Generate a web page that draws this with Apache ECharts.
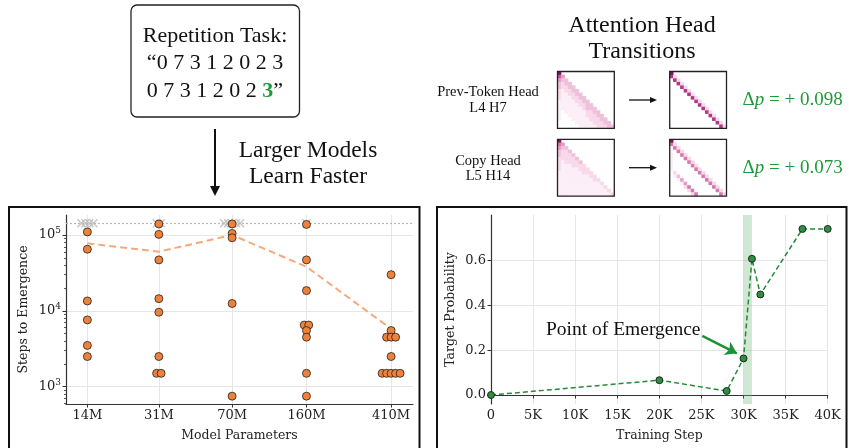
<!DOCTYPE html>
<html><head><meta charset="utf-8">
<script src="https://cdn.jsdelivr.net/npm/echarts@6/dist/echarts.min.js"></script>
<style>html,body{margin:0;padding:0;background:#fff}#c{width:849px;height:448px}</style>
</head><body><div id="c"></div>
<script>
// ---------- Left panel: steps to emergence vs model size ----------
const modelSizes = [14, 31, 70, 160, 410];          // millions of parameters
const modelLabels = ['14M', '31M', '70M', '160M', '410M'];
const emergence14M  = [110000, 65000, 13500, 7600, 3500, 2500];
const emergence31M  = [140000, 102000, 47000, 14500, 9600, 2500, 1500, 1500];
const emergence70M  = [140000, 105000, 92000, 12500, 750];
const emergence160M = [138000, 47000, 18500, 6500, 6500, 5500, 4500, 1500, 750];
const emergence410M = [30000, 5500, 4500, 4500, 4500, 2500, 1500, 1500, 1500, 1500, 1500];
const notEmergedCount = [4, 2, 5, 1, 0];
const maxTrainSteps = 143000;
const trendSteps = [77700, 60300, 100000, 38200, 5800];
const yTickValues = [1000, 10000, 100000];
const yMinorTicks = [600, 700, 800, 900, 2000, 3000, 4000, 5000, 6000, 7000, 8000, 9000,
                     20000, 30000, 40000, 50000, 60000, 70000, 80000, 90000];

// ---------- Right panel: target probability over training ----------
const trainSteps = [0, 20000, 28000, 30000, 31000, 32000, 37000, 40000];
const targetProb = [0.0, 0.066, 0.018, 0.163, 0.607, 0.448, 0.740, 0.740];
const emergenceWindow = [30000, 31000];
const xTicksRight = [0, 5000, 10000, 15000, 20000, 25000, 30000, 35000, 40000];
const yTicksRight = [0, 0.2, 0.4, 0.6];
const arrowFrom = [25100, 0.263];
const arrowTo = [29200, 0.186];

// ---------- Attention maps (intensity 0-9, lower-triangular rows) ----------
const prevTokenBefore = ['9','64','433','3233','32233','212233','2112233','21112233','111112233',
  '1111112233','11111112333','101111112233','1001111122233','10001111122233','000001111122233','0000001111122233'];
const prevTokenAfter = ['9','72','072','0072','00072','000072','0000072','00000072','000000072',
  '0000000072','00000000072','000000000072','0000000000072','00000000000072','000000000000072','0000000000000072'];
const copyHeadBefore = ['9','54','433','3223','32223','222223','2122223','21112222','211111222',
  '1111111222','11111111122','111111111122','1111111111112','11111111111112','111111111111112','1111111111111112'];
const copyHeadAfter = ['9','52','152','1052','10052','100052','1000052','10000052','100000052',
  '0200000052','01300000052','001400000052','0001400000052','00002500000052','000002500000052','0000002500000052'];
const attnMaps = [prevTokenBefore, prevTokenAfter, copyHeadBefore, copyHeadAfter];
const deltaP = ['+ 0.098', '+ 0.073'];

const SERIF = 'DejaVu Serif';
const TEXT = 'Liberation Serif';
const ORANGE = '#ef8238';
const GREEN = '#238b38';
const AX = '#333';

const chart = echarts.init(document.getElementById('c'), null, {renderer: 'canvas'});

// build swarm-jittered scatter data
const groups = [emergence14M, emergence31M, emergence70M, emergence160M, emergence410M];
const scatterData = [];
groups.forEach((arr, gi) => {
  const counts = {};
  arr.forEach(v => { counts[v] = (counts[v] || 0) + 1; });
  const seen = {};
  arr.forEach(v => {
    const n = counts[v];
    const k = seen[v] = (seen[v] === undefined ? 0 : seen[v] + 1);
    scatterData.push({value: [modelSizes[gi], v], symbolOffset: [(k - (n - 1) / 2) * 4.5, 0]});
  });
});
const crossData = [];
notEmergedCount.forEach((n, gi) => {
  for (let k = 0; k < n; k++) crossData.push({value: [modelSizes[gi], maxTrainSteps], symbolOffset: [(k - (n - 1) / 2) * 4, 0]});
});

// heatmap grids
const hmLefts = [557.5, 669.7, 557.5, 669.7];
const hmTops = [71.5, 71.5, 139.3, 139.3];
const hmSize = 56.8;
const N = 16;
const cats = Array.from({length: N}, (_, i) => String(i));

const grids = [
  {left: 66, top: 215, right: 436, bottom: 44},
  {left: 491, top: 215, right: 21.3, bottom: 44}
];
const xAxes = [
  {gridIndex: 0, type: 'log', logBase: 10, min: 11.04, max: 523,
   axisLine: {show: true, lineStyle: {color: AX, width: 1.2}},
   axisTick: {show: true, length: 3.5, customValues: modelSizes, lineStyle: {color: AX}},
   axisLabel: {customValues: modelSizes, formatter: v => modelLabels[modelSizes.indexOf(Math.round(v))],
               fontFamily: SERIF, fontSize: 13, color: '#222', margin: 5},
   splitLine: {show: true, lineStyle: {color: '#e6e6e6'}},
   minorTick: {show: false}, minorSplitLine: {show: false},
   name: 'Model Parameters', nameLocation: 'middle', nameGap: 25,
   nameTextStyle: {fontFamily: SERIF, fontSize: 12.5, color: '#222'}},
  {gridIndex: 1, type: 'value', min: 0, max: 40000,
   axisLine: {show: true, lineStyle: {color: AX, width: 1.2}},
   axisTick: {show: true, length: 3.5, customValues: xTicksRight, lineStyle: {color: AX}},
   axisLabel: {customValues: xTicksRight, formatter: v => v === 0 ? '0' : (v / 1000) + 'K',
               fontFamily: SERIF, fontSize: 13, color: '#222', margin: 5},
   splitLine: {show: true, lineStyle: {color: '#e6e6e6'}},
   name: 'Training Step', nameLocation: 'middle', nameGap: 25,
   nameTextStyle: {fontFamily: SERIF, fontSize: 12.5, color: '#222'}}
];
const yAxes = [
  {gridIndex: 0, type: 'log', logBase: 10, min: 591, max: 183800,
   axisLine: {show: true, lineStyle: {color: AX, width: 1.2}},
   axisTick: {show: true, length: 3.5, customValues: yTickValues, lineStyle: {color: AX}},
   axisLabel: {customValues: yTickValues, margin: 5,
     formatter: v => '{b|10}{s|' + Math.round(Math.log10(v)) + '}',
     rich: {b: {fontFamily: SERIF, fontSize: 13, color: '#222'},
            s: {fontFamily: SERIF, fontSize: 9, color: '#222', padding: [0, 0, 8, 0]}}},
   splitLine: {show: true, lineStyle: {color: '#e6e6e6'}},
   minorTick: {show: false},
   name: 'Steps to Emergence', nameLocation: 'middle', nameGap: 36,
   nameTextStyle: {fontFamily: SERIF, fontSize: 12.5, color: '#222'}},
  {gridIndex: 0, type: 'log', logBase: 10, min: 591, max: 183800, position: 'left',
   axisLine: {show: false}, axisLabel: {show: false}, splitLine: {show: false},
   axisTick: {show: true, length: 2, customValues: yMinorTicks, lineStyle: {color: AX, width: 0.8}}},
  {gridIndex: 1, type: 'value', min: -0.04, max: 0.802,
   axisLine: {show: true, lineStyle: {color: AX, width: 1.2}},
   axisTick: {show: true, length: 3.5, customValues: yTicksRight, lineStyle: {color: AX}},
   axisLabel: {customValues: yTicksRight, formatter: v => v.toFixed(1),
               fontFamily: SERIF, fontSize: 13, color: '#222', margin: 5},
   splitLine: {show: true, lineStyle: {color: '#e6e6e6'}},
   name: 'Target Probability', nameLocation: 'middle', nameGap: 34,
   nameTextStyle: {fontFamily: SERIF, fontSize: 12.5, color: '#222'}}
];

const series = [
  {type: 'scatter', xAxisIndex: 0, yAxisIndex: 0, data: crossData, z: 2,
   symbol: 'path://M0,0L10,10M10,0L0,10', symbolSize: 8,
   itemStyle: {color: 'rgba(0,0,0,0)', borderColor: '#b8b8b8', borderWidth: 1.4},
   markLine: {silent: true, symbol: 'none', label: {show: false}, z: 1,
     lineStyle: {type: [2, 2], color: '#b5b5b5', width: 1.2}, data: [{yAxis: maxTrainSteps}]}},
  {type: 'line', xAxisIndex: 0, yAxisIndex: 0, z: 3,
   data: modelSizes.map((m, i) => [m, trendSteps[i]]), symbol: 'none',
   lineStyle: {color: '#f5a97b', width: 2, type: [7, 4]}},
  {type: 'scatter', xAxisIndex: 0, yAxisIndex: 0, data: scatterData, z: 4,
   symbol: 'circle', symbolSize: 8,
   itemStyle: {color: ORANGE, borderColor: '#222', borderWidth: 0.8, opacity: 1}},
  {type: 'line', xAxisIndex: 1, yAxisIndex: 2, z: 4,
   data: trainSteps.map((s, i) => [s, targetProb[i]]),
   symbol: 'circle', symbolSize: 7,
   lineStyle: {color: GREEN, width: 1.5, type: [5, 3]},
   itemStyle: {color: '#2e8f40', borderColor: '#1a1a1a', borderWidth: 0.9},
   markArea: {silent: true, itemStyle: {color: 'rgba(120,185,130,0.35)'},
     data: [[{xAxis: emergenceWindow[0]}, {xAxis: emergenceWindow[1]}]]},
   markLine: {silent: true, symbol: ['none', 'arrow'], symbolSize: 11, label: {show: false},
     lineStyle: {type: 'solid', color: '#1d9138', width: 2.5},
     data: [[{coord: arrowFrom}, {coord: arrowTo}]]}}
];

attnMaps.forEach((rows, mi) => {
  grids.push({left: hmLefts[mi], top: hmTops[mi], width: hmSize, height: hmSize});
  xAxes.push({gridIndex: 2 + mi, type: 'category', data: cats, show: false});
  yAxes.push({gridIndex: 2 + mi, type: 'category', data: cats, inverse: true, show: false});
  const d = [];
  rows.forEach((r, i) => { for (let j = 0; j < r.length; j++) d.push([j, i, +r[j]]); });
  series.push({type: 'heatmap', xAxisIndex: 2 + mi, yAxisIndex: 3 + mi, data: d,
    itemStyle: {borderWidth: 0}, emphasis: {disabled: true}});
});

const graphics = [
  {type: 'rect', shape: {x: 9, y: 207, width: 410.5, height: 260}, style: {fill: 'none', stroke: '#111', lineWidth: 2}, z: 50},
  {type: 'rect', shape: {x: 437, y: 207, width: 409.5, height: 260}, style: {fill: 'none', stroke: '#111', lineWidth: 2}, z: 50},
  {type: 'rect', shape: {x: 131, y: 5, width: 168.5, height: 112, r: 6}, style: {fill: '#fff', stroke: '#222', lineWidth: 1.3}},
  {type: 'text', x: 215, y: 36, style: {text: 'Repetition Task:', font: '22px "Liberation Serif"', fill: '#111', align: 'center', verticalAlign: 'middle'}},
  {type: 'text', x: 215, y: 63, style: {text: '\u201c0 7 3 1 2 0 2 3', font: '22px "Liberation Serif"', fill: '#111', align: 'center', verticalAlign: 'middle'}},
  {type: 'text', x: 215, y: 91, style: {text: '{n|0 7 3 1 2 0 2 }{h|3}{n|\u201d}', align: 'center', verticalAlign: 'middle',
     rich: {n: {fontFamily: TEXT, fontSize: 22, fill: '#111'}, h: {fontFamily: TEXT, fontSize: 22, fontWeight: 'bold', fill: '#1f9a3a'}}}},
  {type: 'line', shape: {x1: 215, y1: 129, x2: 215, y2: 188}, style: {stroke: '#111', lineWidth: 2}},
  {type: 'polygon', shape: {points: [[210, 186], [220, 186], [215, 196]]}, style: {fill: '#111'}},
  {type: 'text', x: 308, y: 151, style: {text: 'Larger Models', font: '23.5px "Liberation Serif"', fill: '#111', align: 'center', verticalAlign: 'middle'}},
  {type: 'text', x: 308, y: 177, style: {text: 'Learn Faster', font: '23.5px "Liberation Serif"', fill: '#111', align: 'center', verticalAlign: 'middle'}},
  {type: 'text', x: 642, y: 26, style: {text: 'Attention Head', font: '24px "Liberation Serif"', fill: '#111', align: 'center', verticalAlign: 'middle'}},
  {type: 'text', x: 642, y: 52, style: {text: 'Transitions', font: '24px "Liberation Serif"', fill: '#111', align: 'center', verticalAlign: 'middle'}},
  {type: 'text', x: 488, y: 92, style: {text: 'Prev-Token Head', font: '14.5px "Liberation Serif"', fill: '#111', align: 'center', verticalAlign: 'middle'}},
  {type: 'text', x: 488, y: 108, style: {text: 'L4 H7', font: '14.5px "Liberation Serif"', fill: '#111', align: 'center', verticalAlign: 'middle'}},
  {type: 'text', x: 488, y: 161, style: {text: 'Copy Head', font: '14.5px "Liberation Serif"', fill: '#111', align: 'center', verticalAlign: 'middle'}},
  {type: 'text', x: 488, y: 176, style: {text: 'L5 H14', font: '14.5px "Liberation Serif"', fill: '#111', align: 'center', verticalAlign: 'middle'}},
  {type: 'text', x: 546, y: 330, style: {text: 'Point of Emergence', font: '19.5px "Liberation Serif"', fill: '#111', verticalAlign: 'middle'}, z: 60}
];
[100, 167.7].forEach((y, i) => {
  graphics.push({type: 'line', shape: {x1: 629, y1: y, x2: 651, y2: y}, style: {stroke: '#111', lineWidth: 1.3}});
  graphics.push({type: 'polygon', shape: {points: [[650, y - 3], [650, y + 3], [657, y]]}, style: {fill: '#111'}});
  graphics.push({type: 'text', x: 742.5, y: y, style: {text: '{g|\u0394}{i|p}{g| = ' + deltaP[i] + '}', verticalAlign: 'middle',
    rich: {g: {fontFamily: TEXT, fontSize: 19, fill: '#1f9a3a'}, i: {fontFamily: TEXT, fontSize: 19, fontStyle: 'italic', fill: '#1f9a3a'}}}});
});
hmLefts.forEach((l, i) => {
  graphics.push({type: 'rect', shape: {x: l, y: hmTops[i], width: hmSize, height: hmSize}, style: {fill: 'none', stroke: '#222', lineWidth: 1.3}, z: 60});
});

chart.setOption({
  animation: false,
  backgroundColor: '#fff',
  textStyle: {fontFamily: SERIF},
  grid: grids, xAxis: xAxes, yAxis: yAxes, series: series,
  visualMap: {show: false, type: 'continuous', min: 0, max: 9, seriesIndex: [4, 5, 6, 7],
    inRange: {color: ['#ffffff', '#fbe6f1', '#efc0da', '#dc8bb9', '#c4569a', '#a52a78', '#8a0f5c']}},
  graphic: {elements: graphics}
});
</script>
</body></html>
